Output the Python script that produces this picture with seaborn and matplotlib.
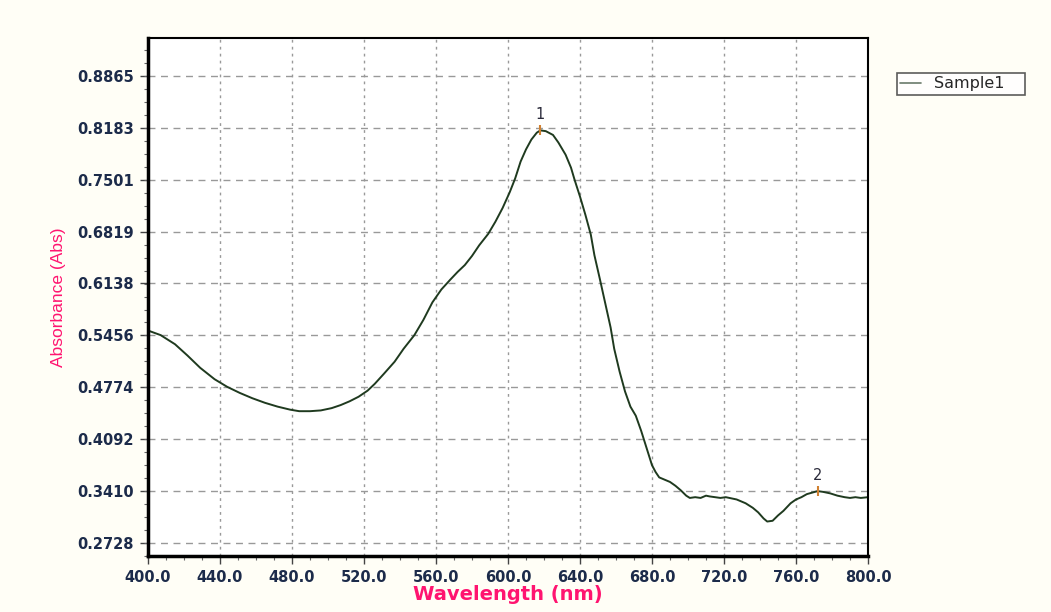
import numpy as np
import pandas as pd
import seaborn as sns
import matplotlib.pyplot as plt
from matplotlib.ticker import MultipleLocator, FixedLocator

# spectrum
wavelength = [400, 407, 415, 422, 429, 437, 444, 451, 458, 465, 472, 479, 484, 490, 496,
              502, 507, 512, 517, 522, 526, 531, 537, 542, 548, 553, 558, 563, 568, 572,
              576, 580, 584, 589, 593, 597, 601, 604, 607, 610, 613, 616, 618, 621, 625,
              628, 632, 635, 637, 640, 643, 646, 648, 651, 654, 657, 659, 662, 665, 668,
              671, 674, 676, 678, 680, 682, 684, 687, 690, 693, 696, 699, 701, 704, 707,
              710, 712, 715, 718, 721, 723, 727, 732, 736, 739, 742, 744, 747, 750, 753,
              757, 760, 763, 766, 769, 772, 775, 779, 783, 787, 790, 793, 796, 800]
absorbance = [0.552, 0.546, 0.534, 0.519, 0.503, 0.488, 0.478, 0.470, 0.463, 0.457, 0.452, 0.448, 0.446, 0.446, 0.447,
              0.450, 0.454, 0.459, 0.465, 0.473, 0.482, 0.495, 0.511, 0.528, 0.546, 0.566, 0.589, 0.606, 0.619, 0.629,
              0.638, 0.650, 0.664, 0.679, 0.695, 0.713, 0.734, 0.752, 0.774, 0.790, 0.803, 0.812, 0.815, 0.814, 0.809,
              0.799, 0.783, 0.766, 0.750, 0.728, 0.704, 0.678, 0.651, 0.620, 0.588, 0.556, 0.528, 0.498, 0.472, 0.452,
              0.440, 0.420, 0.405, 0.390, 0.375, 0.366, 0.359, 0.356, 0.353, 0.348, 0.342, 0.335, 0.332, 0.333, 0.332,
              0.335, 0.334, 0.333, 0.332, 0.333, 0.332, 0.330, 0.325, 0.319, 0.313, 0.305, 0.301, 0.302, 0.309, 0.315,
              0.325, 0.330, 0.333, 0.337, 0.339, 0.341, 0.340, 0.338, 0.335, 0.333, 0.332, 0.333, 0.332, 0.333]
peaks_x = [618, 772]
peaks_y = [0.815, 0.341]
peak_labels = ["1", "2"]
yticks = [0.2728, 0.3410, 0.4092, 0.4774, 0.5456, 0.6138, 0.6819, 0.7501, 0.8183, 0.8865]

df = pd.DataFrame({"Wavelength": wavelength, "Absorbance": absorbance})

sns.set_style("white")
plt.rcParams['font.family'] = ['DejaVu Sans']

fig = plt.figure(figsize=(10.51, 6.12), dpi=100, facecolor="#fffef6")
ax = fig.add_axes([0.1408, 0.0915, 0.6851, 0.8464])
ax.set_facecolor("white")

sns.lineplot(data=df, x="Wavelength", y="Absorbance", ax=ax, color="#1f3a1f",
             linewidth=1.4, label="Sample1")

# peak markers
ax.plot(peaks_x, peaks_y, marker="|", linestyle="none", color="#d08030", markersize=7, mew=1.5)
for px, py, lab in zip(peaks_x, peaks_y, peak_labels):
    ax.annotate(lab, (px, py), xytext=(0, 6), textcoords="offset points",
                ha="center", va="bottom", fontsize=10.5, color="#2a2a3a")

ax.set_xlim(400, 800)
ax.set_ylim(0.2557, 0.9364)
ax.xaxis.set_major_locator(MultipleLocator(40))
ax.xaxis.set_minor_locator(MultipleLocator(10))
ax.yaxis.set_major_locator(FixedLocator(yticks))
ax.yaxis.set_minor_locator(MultipleLocator(0.06819 / 4))
ax.set_xticklabels([f"{v:.1f}" for v in ax.get_xticks()])
ax.set_yticklabels([f"{v:.4f}" for v in yticks])

tick_color = "#1c2b4a"
ax.tick_params(axis="both", which="major", direction="out", length=6, width=1,
               color="#444444", labelcolor=tick_color, labelsize=10.5, pad=4)
ax.tick_params(axis="both", which="minor", direction="out", length=3, width=0.8, color="#666666")
ax.tick_params(left=True, bottom=True, which="both")
for lbl in ax.get_xticklabels() + ax.get_yticklabels():
    lbl.set_fontweight("bold")

ax.xaxis.grid(True, which="major", linestyle=(0, (2, 3)), color="#999999", linewidth=1)
ax.yaxis.grid(True, which="major", linestyle=(0, (5, 4)), color="#999999", linewidth=1)

for side in ["left", "bottom"]:
    ax.spines[side].set_linewidth(2.5)
    ax.spines[side].set_color("black")
for side in ["top", "right"]:
    ax.spines[side].set_linewidth(1.5)
    ax.spines[side].set_color("black")

pink = "#ff1470"
ax.set_xlabel("Wavelength (nm)", color=pink, fontsize=14, fontweight="bold", labelpad=0)
ax.set_ylabel("Absorbance (Abs)", color=pink, fontsize=12.5,
              family=["Liberation Sans Narrow", "Liberation Sans"], labelpad=8)

leg = ax.legend(loc="upper left", bbox_to_anchor=(1.04, 0.932, 0.178, 0), mode="expand",
                frameon=True, fancybox=False, edgecolor="#333333", fontsize=11.5,
                handlelength=1.3, handletextpad=0.8, borderpad=0.2, borderaxespad=0)
leg.get_frame().set_linewidth(1.2)
leg.get_lines()[0].set_color("#6a7a6a")
leg.get_lines()[0].set_linewidth(1.2)

fig.savefig("out.png", dpi=100, facecolor=fig.get_facecolor())
